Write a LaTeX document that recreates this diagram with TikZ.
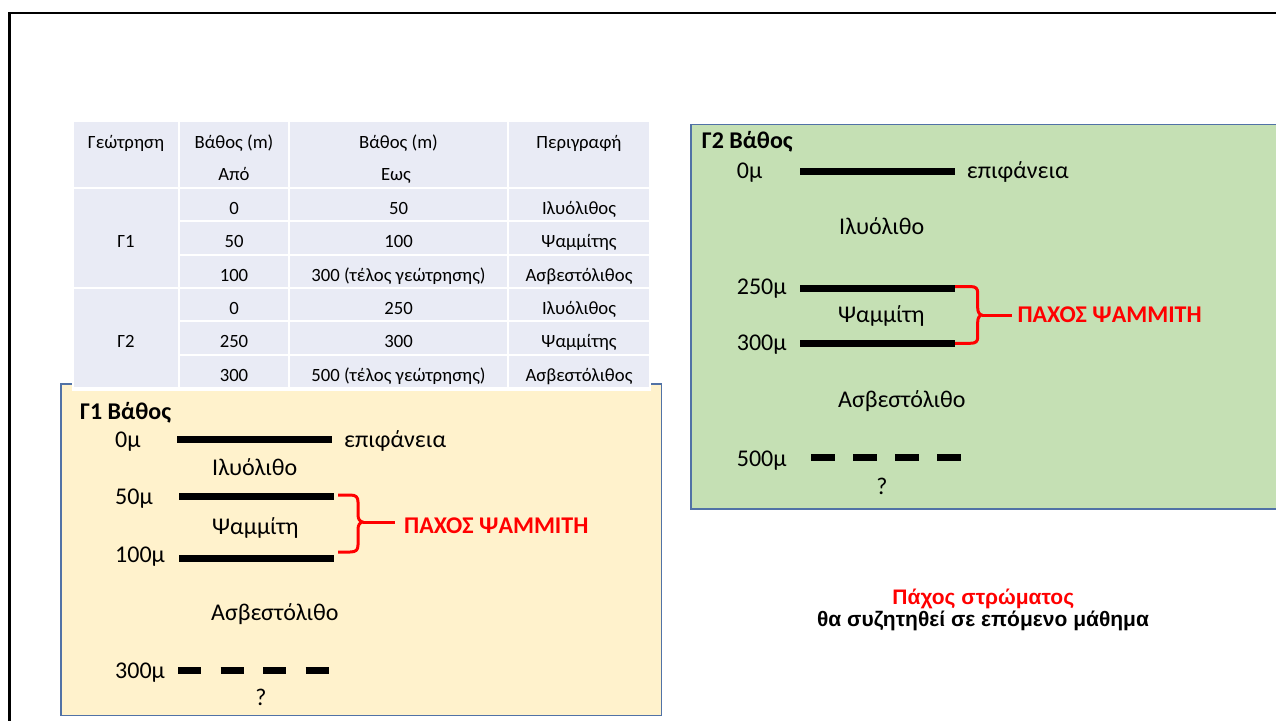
\documentclass[tikz,border=0pt]{standalone}
\usepackage{fontspec}
\setmainfont{Carlito}
\newfontfamily\arialfont{Liberation Sans}
\definecolor{cellbg}{HTML}{E9EBF5}
\definecolor{sandfill}{HTML}{FFF2CC}
\definecolor{grassfill}{HTML}{C5E0B4}
\definecolor{boxedge}{HTML}{5172A6}
\definecolor{markred}{HTML}{FF0000}
\tikzset{
  cell/.style={fill=cellbg, draw=none},
  tabtxt/.style={font=\fontsize{18.7}{22}\selectfont, inner sep=0pt, anchor=base},
  logtxt/.style={font=\fontsize{24}{28}\selectfont, inner sep=0pt, anchor=base west},
  logtitle/.style={font=\bfseries\fontsize{24}{28}\selectfont, inner sep=0pt, anchor=base west},
  redlabel/.style={font=\bfseries\fontsize{24}{28}\selectfont, text=markred, inner sep=0pt, anchor=base west},
  bound/.style={line width=7pt},
  openbound/.style={line width=7pt},
  brace/.style={draw=markred, line width=3pt, line join=round},
  panel/.style={draw=boxedge, line width=1.3pt},
  notetxt/.style={font=\arialfont\bfseries\fontsize{21}{25}\selectfont, inner sep=0pt, anchor=base}
}
\begin{document}
\begin{tikzpicture}[x=1pt,y=-1pt]
\useasboundingbox (0,0) rectangle (1276,720);
\clip (0,0) rectangle (1276,720);
\fill[white] (0,0) rectangle (1276,720);

% slide frame
\draw[line width=2.6pt] (9.5,12.8) rectangle (1300,740);

% borehole panels
\draw[panel, fill=grassfill] (691,124.3) rectangle (1300,509);
\draw[panel, fill=sandfill] (61,384) rectangle (661.7,715.7);

% data table
\fill[white] (72,120) rectangle (651,390.5);
\fill[cell] (74,122) rectangle (178,187);
\fill[cell] (180,122) rectangle (288,187);
\fill[cell] (290,122) rectangle (507,187);
\fill[cell] (509,122) rectangle (649,187);
\fill[cell] (74,189) rectangle (178,286.9);
\fill[cell] (74,288.9) rectangle (178,386.8);
\foreach \l/\r in {180/288, 290/507, 509/649}
  \foreach \i in {0,...,5}
    \fill[cell] (\l,{189+33.3*\i}) rectangle (\r,{189+33.3*\i+31.3});

\node[tabtxt] (h1) at (126,148) {Γεώτρηση};
\node[tabtxt] (h2a) at (234,148) {Βάθος (m)};
\node[tabtxt] (h2b) at (234,180) {Από};
\node[tabtxt] (h3a) at (398.5,148) {Βάθος (m)};
\node[tabtxt] (h3b) at (396,180) {Εως};
\node[tabtxt] (h4) at (579,148) {Περιγραφή};

\node[tabtxt] (g1) at (126,247.8) {Γ1};
\node[tabtxt] (g2) at (126,347.9) {Γ2};

\node[tabtxt] (r1a) at (234,214.5) {0};
\node[tabtxt] (r1b) at (398.5,214.5) {50};
\node[tabtxt] (r1c) at (579,214.5) {Ιλυόλιθος};
\node[tabtxt] (r2a) at (234,247.8) {50};
\node[tabtxt] (r2b) at (398.5,247.8) {100};
\node[tabtxt] (r2c) at (579,247.8) {Ψαμμίτης};
\node[tabtxt] (r3a) at (234,281.1) {100};
\node[tabtxt] (r3b) at (398.5,281.1) {300 (τέλος γεώτρησης)};
\node[tabtxt] (r3c) at (579,281.1) {Ασβεστόλιθος};
\node[tabtxt] (r4a) at (234,314.4) {0};
\node[tabtxt] (r4b) at (398.5,314.4) {250};
\node[tabtxt] (r4c) at (579,314.4) {Ιλυόλιθος};
\node[tabtxt] (r5a) at (234,347.9) {250};
\node[tabtxt] (r5b) at (398.5,347.9) {300};
\node[tabtxt] (r5c) at (579,347.9) {Ψαμμίτης};
\node[tabtxt] (r6a) at (234,381.2) {300};
\node[tabtxt] (r6b) at (398.5,381.2) {500 (τέλος γεώτρησης)};
\node[tabtxt] (r6c) at (579,381.2) {Ασβεστόλιθος};

% ---- borehole G1 log ----
\node[logtitle] (t1) at (80,419) {Γ1 Βάθος};
\node[logtxt] (d1a) at (115,447) {0μ};
\node[logtxt] (d1b) at (115,504) {50μ};
\node[logtxt] (d1c) at (115,562.5) {100μ};
\node[logtxt] (d1d) at (115,678) {300μ};
\node[logtxt] (s1) at (344,447) {επιφάνεια};
\node[logtxt] (l1a) at (212,475) {Ιλυόλιθο};
\node[logtxt] (l1b) at (212,534) {Ψαμμίτη};
\node[logtxt] (l1c) at (211,620) {Ασβεστόλιθο};
\node[logtxt, anchor=base] (q1) at (261,705) {?};

\coordinate (a1s) at (177.3,439.5); \coordinate (a1e) at (331.7,439.5);
\coordinate (b1s) at (179,496.3);   \coordinate (b1e) at (333.7,496.3);
\coordinate (c1s) at (179,558.7);   \coordinate (c1e) at (333.7,558.7);
\coordinate (e1s) at (178,670.3);   \coordinate (e1e) at (328.5,670.3);
\draw[bound] (a1s) -- (a1e);
\draw[bound] (b1s) -- (b1e);
\draw[bound] (c1s) -- (c1e);
\draw[openbound, dash pattern=on 23pt off 19.5pt] (e1s) -- (e1e);

\draw[brace] (338,495) -- (350,495) .. controls (356,495) and (358,497) .. (358,502)
  -- (358,515) .. controls (358,519) and (360,522) .. (363,522)
  .. controls (360,522) and (358,525) .. (358,529)
  -- (358,545) .. controls (358,550) and (356,552) .. (350,552) -- (338,552);
\coordinate (tip1) at (363,522);
\coordinate (stub1) at (395,522);
\draw[brace] (tip1) -- (stub1);
\node[redlabel] (p1) at (404,533.3) {ΠΑΧΟΣ ΨΑΜΜΙΤΗ};

% ---- borehole G2 log ----
\node[logtitle] (t2) at (701.7,148.3) {Γ2 Βάθος};
\node[logtxt] (d2a) at (736.7,178.3) {0μ};
\node[logtxt] (d2b) at (736.7,294) {250μ};
\node[logtxt] (d2c) at (736.7,350.5) {300μ};
\node[logtxt] (d2d) at (736.7,466) {500μ};
\node[logtxt] (s2) at (966.7,178.3) {επιφάνεια};
\node[logtxt] (l2a) at (839,234.3) {Ιλυόλιθο};
\node[logtxt] (l2b) at (838,322) {Ψαμμίτη};
\node[logtxt] (l2c) at (838,407.5) {Ασβεστόλιθο};
\node[logtxt, anchor=base] (q2) at (882,494) {?};

\coordinate (a2s) at (800,171.7); \coordinate (a2e) at (955,171.7);
\coordinate (b2s) at (800,288.7); \coordinate (b2e) at (955,288.7);
\coordinate (c2s) at (800,343.8); \coordinate (c2e) at (955,343.8);
\coordinate (e2s) at (811,457.3); \coordinate (e2e) at (961,457.3);
\draw[bound] (a2s) -- (a2e);
\draw[bound] (b2s) -- (b2e);
\draw[bound] (c2s) -- (c2e);
\draw[openbound, dash pattern=on 24pt off 18pt] (e2s) -- (e2e);

\draw[brace] (955,286.5) -- (970,286.5) .. controls (976,286.5) and (977.7,288.5) .. (977.7,293)
  -- (977.7,308) .. controls (977.7,312) and (979.5,315) .. (982,315)
  .. controls (979.5,315) and (977.7,318) .. (977.7,322)
  -- (977.7,337) .. controls (977.7,341.5) and (976,343.3) .. (970,343.3) -- (955,343.3);
\coordinate (tip2) at (982,315);
\coordinate (stub2) at (1011.7,315);
\draw[brace] (tip2) -- (stub2);
\node[redlabel] (p2) at (1017.3,322.7) {ΠΑΧΟΣ ΨΑΜΜΙΤΗ};

% ---- note ----
\node[notetxt, text=markred] (n1) at (983.3,604.3) {Πάχος στρώματος};
\node[notetxt] (n2) at (983,626.7) {θα συζητηθεί σε επόμενο μάθημα};
\end{tikzpicture}
\end{document}
